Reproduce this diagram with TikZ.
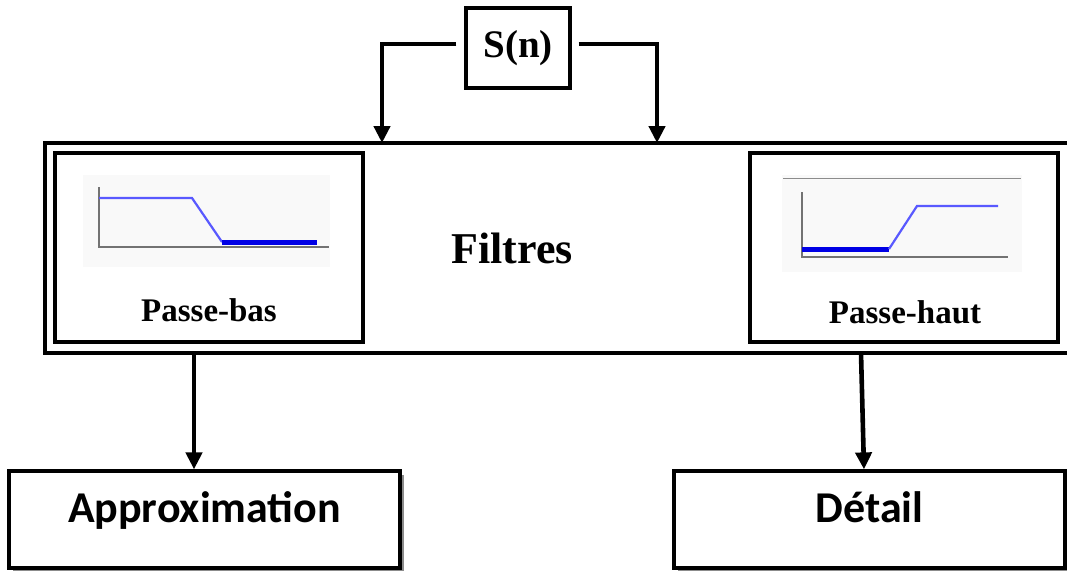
\documentclass[tikz,border=0pt]{standalone}
\usepackage{fontspec}
\setmainfont{Liberation Serif}
\newfontfamily\calib{Carlito}
\usetikzlibrary{arrows.meta,shadows}
\begin{document}
\begin{tikzpicture}[x=1pt,y=-1pt,
  arr/.style={line width=4.6pt,-{Triangle[length=17pt,width=16pt]}},
  inbox/.style={draw,line width=3.2pt,minimum width=308pt,minimum height=189pt,inner sep=0pt},
  outbox/.style={draw,fill=white,line width=3.2pt,minimum width=391pt,minimum height=97pt,inner sep=0pt,
     text height=33pt,text depth=28pt,
     drop shadow={shadow xshift=4pt,shadow yshift=-4pt,fill=black!45,opacity=1}},
  axis/.style={draw=black!55,line width=2.2pt},
  lowc/.style={draw=blue!65,line width=2.2pt},
  thickblue/.style={draw=blue!90!black,line width=5pt},
  lbl/.style={font=\fontsize{33}{38}\selectfont\bfseries}
]
\useasboundingbox (0,0) rectangle (1067,570);
\clip (0,0) rectangle (1067,570);
\fill[white] (0,0) rectangle (1067,570);

% source
\node[draw,line width=3.4pt,minimum width=104pt,minimum height=80pt,inner sep=0pt,
      font=\fontsize{39}{43}\selectfont\bfseries] (sn) at (518,48) {S(n)};

% outer filter box (right side runs off the picture)
\node[draw,line width=4.4pt,minimum width=1040pt,minimum height=210pt,inner sep=0pt] (filt) at (565,248) {};
\node[font=\fontsize{44}{48}\selectfont\bfseries] (ftxt) at (512,248) {Filtres};

% inner filter boxes
\node[inbox] (lp) at (209,247.5) {};
\node[inbox] (hp) at (904,247.5) {};

% low-pass graph
\fill[black!2.5] (83,175) rectangle (330,267);
\draw[axis] (99,187) -- (99,247) -- (329,247);
\draw[lowc] (99,198) -- (192,198) -- (222,242);
\draw[thickblue] (222,242) -- (317,242);
\node[lbl] (lpt) at (209,310) {Passe-bas};

% high-pass graph
\fill[black!2.5] (782,175) rectangle (1022,272);
\draw[draw=black!45,line width=1pt] (783,178) -- (1021,178);
\draw[axis] (802,192) -- (802,257) -- (1008,257);
\draw[thickblue] (802,249) -- (889,249);
\draw[lowc] (889,249) -- (917,206) -- (998,206);
\node[lbl] (hpt) at (905,312) {Passe-haut};

% inputs
\coordinate (inL) at (382,143);
\coordinate (inR) at (657,143);
\draw[arr,shorten <=8pt] ([yshift=4pt]sn.west) -| (inL);
\draw[arr,shorten <=7pt] ([yshift=4pt]sn.east) -| (inR);

% outputs
\node[outbox,font=\calib\fontsize{44}{50}\selectfont\bfseries] (appr) at (204.5,519.5) {Approximation};
\node[outbox,font=\calib\fontsize{44}{50}\selectfont\bfseries] (det) at (869.5,519.5) {Détail};

\coordinate (oL) at (194,353);
\coordinate (oR) at (861,353);
\draw[arr] (oL) -- (oL |- appr.north);
\draw[arr] (oR) -- ([xshift=3pt]oR |- det.north);
\end{tikzpicture}
\end{document}
